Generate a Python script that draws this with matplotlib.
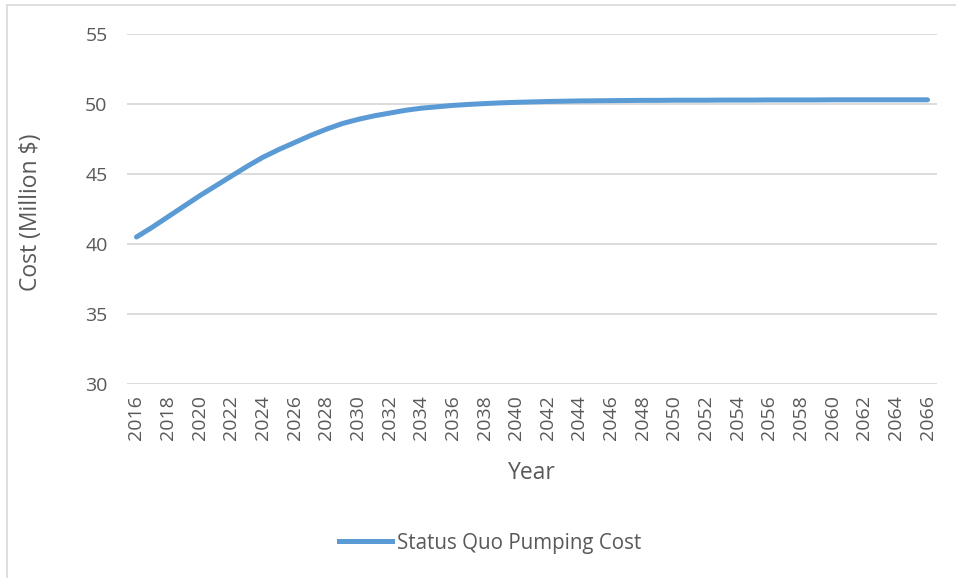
import matplotlib.pyplot as plt
from matplotlib.lines import Line2D

plt.rcParams['font.family'] = ['Open Sans', 'DejaVu Sans']

years = list(range(2016, 2067))
cost = [40.5, 41.2, 41.95, 42.7, 43.45, 44.15, 44.85, 45.55, 46.2, 46.75,
        47.25, 47.75, 48.2, 48.6, 48.9, 49.15, 49.35, 49.55, 49.7, 49.8,
        49.9, 49.97, 50.03, 50.08, 50.12, 50.15, 50.18, 50.2, 50.22, 50.23,
        50.24, 50.25, 50.26, 50.26, 50.27, 50.27, 50.27, 50.28, 50.28, 50.28,
        50.29, 50.29, 50.29, 50.29, 50.3, 50.3, 50.3, 50.3, 50.3, 50.3, 50.3]
yticks = [30, 35, 40, 45, 50, 55]
xticks = years[::2]

text_col = '#595959'
grid_col = '#D9D9D9'
line_col = '#5B9BD5'

fig = plt.figure(figsize=(9.56, 5.78), dpi=100)
ax = fig.add_axes([127 / 956, 1 - 384 / 578, (937 - 127) / 956, (384 - 34) / 578])

ax.plot(years, cost, color=line_col, linewidth=3.6, solid_capstyle='round')

ax.set_xlim(2015.4, 2066.6)
ax.set_ylim(30, 55)
ax.set_yticks(yticks)
ax.set_xticks(xticks)
ax.set_xticklabels([str(y) for y in xticks], rotation=90)
ax.tick_params(axis='both', length=0, labelsize=14, colors=text_col)
ax.tick_params(axis='y', pad=14)
ax.tick_params(axis='x', pad=8)
ax.grid(axis='y', color=grid_col, linewidth=1.3)
ax.set_axisbelow(True)
for s in ax.spines.values():
    s.set_visible(False)

ax.set_xlabel("Year", fontsize=16.5, color=text_col, labelpad=15)
ax.set_ylabel("Cost (Million $)", fontsize=16.5, color=text_col)
ax.yaxis.set_label_coords(-0.104, 0.49)

handle = Line2D([], [], color=line_col, linewidth=3.6)
fig.legend([handle], ["Status Quo Pumping Cost"], loc='center',
           bbox_to_anchor=(490 / 956, 1 - 543 / 578), frameon=False,
           fontsize=14.8, labelcolor=text_col, handlelength=2.6, handletextpad=0.25)

# chart border (left and top edges visible)
fig.add_artist(Line2D([7 / 956, 7 / 956], [0, 1 - 5 / 578], color=grid_col, linewidth=1.2))
fig.add_artist(Line2D([7 / 956, 1], [1 - 5 / 578, 1 - 5 / 578], color=grid_col, linewidth=1.2))

fig.savefig("out.png", dpi=100)
